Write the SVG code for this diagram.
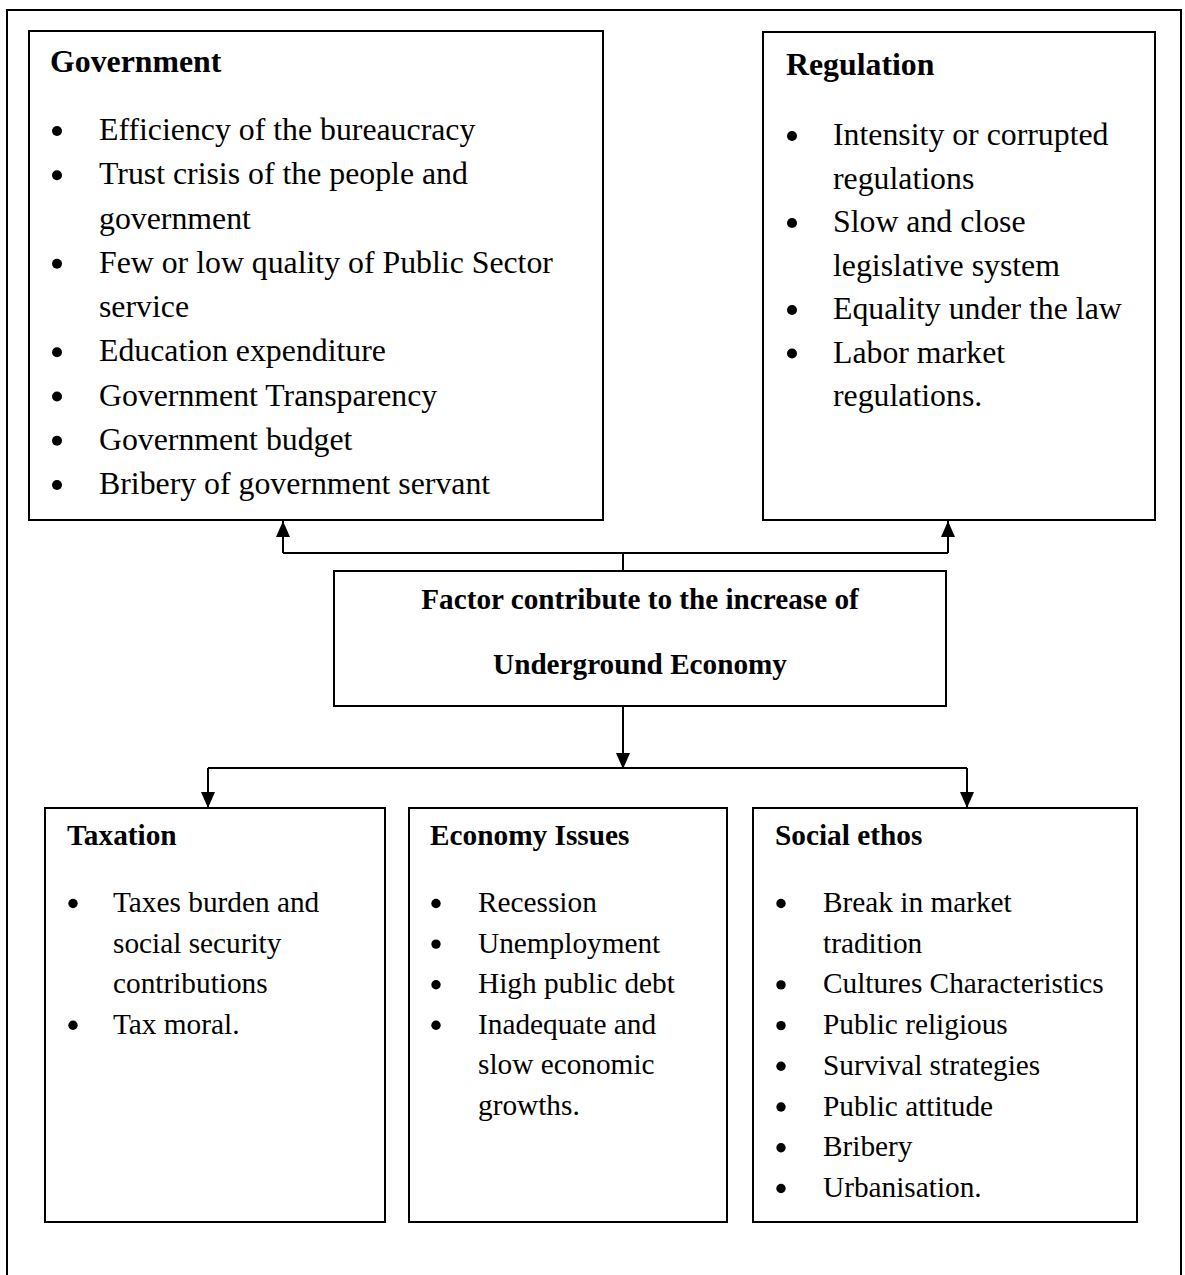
<svg xmlns="http://www.w3.org/2000/svg" width="1185" height="1275" viewBox="0 0 1185 1275">
  <style>
    .box { fill: #ffffff; stroke: #000000; stroke-width: 2; }
    .frame { fill: none; stroke: #000000; stroke-width: 2; }
    .wire { fill: none; stroke: #000000; stroke-width: 2; }
    .title { font-family: "Liberation Serif", "Times New Roman", serif; font-weight: bold; fill: #000000; }
    .item { font-family: "Liberation Serif", "Times New Roman", serif; fill: #000000; }
    .big { font-size: 31.8px; }
    .small { font-size: 29.3px; }
    .center { font-family: "Liberation Serif", "Times New Roman", serif; font-weight: bold; font-size: 29.2px; text-anchor: middle; fill: #000000; }
    .bullet { fill: #000000; }
  </style>
  <defs>
    <marker id="head" markerUnits="userSpaceOnUse" markerWidth="16" markerHeight="14" refX="16" refY="7" orient="auto">
      <path d="M0,0 L16,7 L0,14 z" fill="#000000"/>
    </marker>
  </defs>

  <rect width="1185" height="1275" fill="#ffffff"/>

  <!-- outer page frame, open at the bottom -->
  <path class="frame" d="M7,1275 V10 H1181 V1275"/>

  <!-- connectors -->
  <g id="connectors">
    <path class="wire" d="M623,571 V553"/>
    <path class="wire" d="M283,553 H948"/>
    <path class="wire" d="M283,553 V521" marker-end="url(#head)"/>
    <path class="wire" d="M948,553 V521" marker-end="url(#head)"/>
    <path class="wire" d="M623,706 V769" marker-end="url(#head)"/>
    <path class="wire" d="M208,768 H967"/>
    <path class="wire" d="M208,768 V808" marker-end="url(#head)"/>
    <path class="wire" d="M967,768 V808" marker-end="url(#head)"/>
  </g>

  <!-- Government -->
  <g id="government">
    <rect class="box" x="29" y="31" width="574" height="489"/>
    <text class="title big" x="50" y="72">Government</text>
    <g class="bullet">
      <circle cx="57" cy="131" r="5"/>
      <circle cx="57" cy="175.3" r="5"/>
      <circle cx="57" cy="263.8" r="5"/>
      <circle cx="57" cy="352.3" r="5"/>
      <circle cx="57" cy="396.5" r="5"/>
      <circle cx="57" cy="440.8" r="5"/>
      <circle cx="57" cy="485" r="5"/>
    </g>
    <g class="item big">
      <text x="99" y="140">Efficiency of the bureaucracy</text>
      <text x="99" y="184.3">Trust crisis of the people and</text>
      <text x="99" y="228.5">government</text>
      <text x="99" y="272.8">Few or low quality of Public Sector</text>
      <text x="99" y="317">service</text>
      <text x="99" y="361.3">Education expenditure</text>
      <text x="99" y="405.5">Government Transparency</text>
      <text x="99" y="449.8">Government budget</text>
      <text x="99" y="494">Bribery of government servant</text>
    </g>
  </g>

  <!-- Regulation -->
  <g id="regulation">
    <rect class="box" x="763" y="32" width="392" height="488"/>
    <text class="title big" x="786" y="75">Regulation</text>
    <g class="bullet">
      <circle cx="792" cy="136" r="5"/>
      <circle cx="792" cy="223" r="5"/>
      <circle cx="792" cy="310" r="5"/>
      <circle cx="792" cy="353.5" r="5"/>
    </g>
    <g class="item big">
      <text x="833" y="145">Intensity or corrupted</text>
      <text x="833" y="188.5">regulations</text>
      <text x="833" y="232">Slow and close</text>
      <text x="833" y="275.5">legislative system</text>
      <text x="833" y="319">Equality under the law</text>
      <text x="833" y="362.5">Labor market</text>
      <text x="833" y="406">regulations.</text>
    </g>
  </g>

  <!-- central factor box -->
  <g id="factor">
    <rect class="box" x="334" y="571" width="612" height="135"/>
    <text class="center" x="640" y="609">Factor contribute to the increase of</text>
    <text class="center" x="640" y="674">Underground Economy</text>
  </g>

  <!-- Taxation -->
  <g id="taxation">
    <rect class="box" x="45" y="808" width="340" height="414"/>
    <text class="title small" x="67" y="845">Taxation</text>
    <g class="bullet">
      <circle cx="73" cy="903.5" r="4.7"/>
      <circle cx="73" cy="1025.3" r="4.7"/>
    </g>
    <g class="item small">
      <text x="113" y="912">Taxes burden and</text>
      <text x="113" y="952.6">social security</text>
      <text x="113" y="993.2">contributions</text>
      <text x="113" y="1033.8">Tax moral.</text>
    </g>
  </g>

  <!-- Economy Issues -->
  <g id="economy">
    <rect class="box" x="409" y="808" width="318" height="414"/>
    <text class="title small" x="430" y="845">Economy Issues</text>
    <g class="bullet">
      <circle cx="436" cy="903.5" r="4.7"/>
      <circle cx="436" cy="944.1" r="4.7"/>
      <circle cx="436" cy="984.7" r="4.7"/>
      <circle cx="436" cy="1025.3" r="4.7"/>
    </g>
    <g class="item small">
      <text x="478" y="912">Recession</text>
      <text x="478" y="952.6">Unemployment</text>
      <text x="478" y="993.2">High public debt</text>
      <text x="478" y="1033.8">Inadequate and</text>
      <text x="478" y="1074.4">slow economic</text>
      <text x="478" y="1115">growths.</text>
    </g>
  </g>

  <!-- Social ethos -->
  <g id="social">
    <rect class="box" x="753" y="808" width="384" height="414"/>
    <text class="title small" x="775" y="845">Social ethos</text>
    <g class="bullet">
      <circle cx="781" cy="903.5" r="4.7"/>
      <circle cx="781" cy="984.9" r="4.7"/>
      <circle cx="781" cy="1025.6" r="4.7"/>
      <circle cx="781" cy="1066.3" r="4.7"/>
      <circle cx="781" cy="1107" r="4.7"/>
      <circle cx="781" cy="1147.7" r="4.7"/>
      <circle cx="781" cy="1188.5" r="4.7"/>
    </g>
    <g class="item small">
      <text x="823" y="912">Break in market</text>
      <text x="823" y="952.7">tradition</text>
      <text x="823" y="993.4">Cultures Characteristics</text>
      <text x="823" y="1034.1">Public religious</text>
      <text x="823" y="1074.8">Survival strategies</text>
      <text x="823" y="1115.5">Public attitude</text>
      <text x="823" y="1156.2">Bribery</text>
      <text x="823" y="1197">Urbanisation.</text>
    </g>
  </g>
</svg>
